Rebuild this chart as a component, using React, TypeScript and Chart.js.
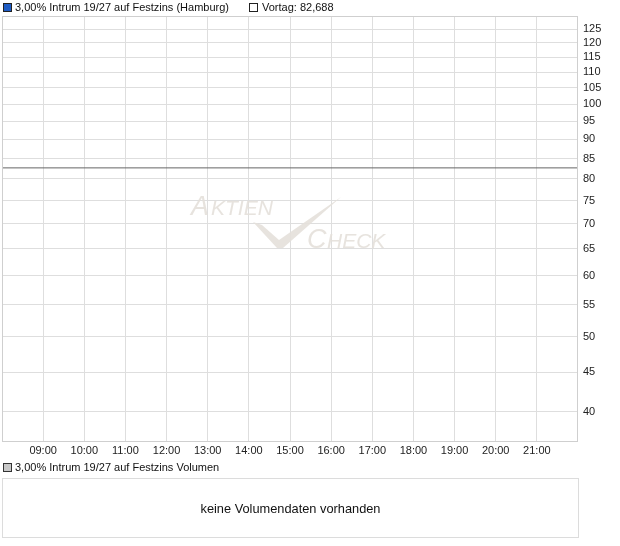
import React, { useEffect, useRef } from "react";
import { Chart, registerables } from "chart.js";

Chart.register(...registerables);

// ---- data ----
const seriesName = "3,00% Intrum 19/27 auf Festzins (Hamburg)";
const vortagName = "Vortag: 82,688";
const volumeName = "3,00% Intrum 19/27 auf Festzins Volumen";
const noVolumeText = "keine Volumendaten vorhanden";
const hourTicks = [9, 10, 11, 12, 13, 14, 15, 16, 17, 18, 19, 20, 21];
const priceTicks = [40, 45, 50, 55, 60, 65, 70, 75, 80, 85, 90, 95, 100, 105, 110, 115, 120, 125];
const vortagValue = 82.688;
const priceTimes: number[] = []; // no intraday trades
const priceValues: number[] = [];
const xStart = 8;
const xEnd = 22;
const yLow = 36.65;
const yHigh = 130;

const FONT = '"Liberation Sans", Arial, sans-serif';

const frame = {
  id: "frame",
  beforeDatasetsDraw(chart: any) {
    const { ctx } = chart;
    ctx.save();
    // watermark
    ctx.fillStyle = "rgba(228,224,218,0.9)";
    ctx.textBaseline = "alphabetic";
    ctx.font = `italic 27px ${FONT}`;
    ctx.fillText("A", 191, 215);
    ctx.font = `italic 21px ${FONT}`;
    ctx.fillText("KTIEN", 211, 215);
    ctx.font = `italic 27px ${FONT}`;
    ctx.fillText("C", 307, 248);
    ctx.font = `italic 21px ${FONT}`;
    ctx.fillText("HECK", 327, 248);
    ctx.beginPath();
    ctx.moveTo(253, 222);
    ctx.lineTo(262, 225);
    ctx.lineTo(279, 240);
    ctx.lineTo(341, 197);
    ctx.lineTo(283, 248);
    ctx.lineTo(277, 248);
    ctx.closePath();
    ctx.fill();
    ctx.restore();
  },
  afterDraw(chart: any) {
    const { ctx, chartArea: a } = chart;
    ctx.save();
    ctx.strokeStyle = "#cfcfcf";
    ctx.lineWidth = 1;
    ctx.strokeRect(Math.round(a.left) + 0.5, Math.round(a.top) + 0.5, Math.round(a.right - a.left) - 1, Math.round(a.bottom - a.top));
    // legend
    ctx.font = `11px ${FONT}`;
    ctx.textBaseline = "middle";
    ctx.fillStyle = "#1f5cc4";
    ctx.fillRect(4, 4, 7, 7);
    ctx.strokeStyle = "#222";
    ctx.strokeRect(3.5, 3.5, 8, 8);
    ctx.fillStyle = "#111";
    ctx.fillText(seriesName, 15, 8);
    ctx.fillStyle = "#fff";
    ctx.fillRect(250, 4, 7, 7);
    ctx.strokeRect(249.5, 3.5, 8, 8);
    ctx.fillStyle = "#111";
    ctx.fillText(vortagName, 262, 8);
    ctx.restore();
  },
};

export default function App() {
  const ref = useRef<HTMLCanvasElement | null>(null);
  useEffect(() => {
    if (!ref.current) return;
    const tickFont = { family: FONT, size: 11 };
    const chart = new Chart(ref.current, {
      type: "line",
      data: {
        datasets: [
          {
            label: seriesName,
            data: priceTimes.map((t, i) => ({ x: t, y: priceValues[i] })),
            borderColor: "#1f5cc4",
            borderWidth: 1,
            pointRadius: 0,
          },
          {
            label: vortagName,
            data: [
              { x: xStart, y: vortagValue },
              { x: xEnd, y: vortagValue },
            ],
            borderColor: "#666",
            borderWidth: 1,
            pointRadius: 0,
          },
        ],
      },
      plugins: [frame],
      options: {
        responsive: false,
        animation: false,
        events: [],
        layout: { padding: { top: 16, left: 2, right: 0, bottom: 0 } },
        plugins: { legend: { display: false }, tooltip: { enabled: false } },
        scales: {
          x: {
            type: "linear",
            min: xStart,
            max: xEnd,
            afterBuildTicks: (s: any) => {
              s.ticks = hourTicks.map((v) => ({ value: v }));
            },
            afterFit: (s: any) => {
              s.height = 20;
            },
            grid: { color: "#dedede", drawTicks: false },
            border: { display: false },
            ticks: {
              padding: 3,
              autoSkip: false,
              maxRotation: 0,
              color: "#222",
              font: tickFont,
              callback: (v: any) => String(v).padStart(2, "0") + ":00",
            },
          },
          y: {
            type: "logarithmic",
            position: "right",
            min: yLow,
            max: yHigh,
            afterBuildTicks: (s: any) => {
              s.ticks = priceTicks.map((v) => ({ value: v }));
            },
            afterFit: (s: any) => {
              s.width = 42;
            },
            grid: { color: "#dedede", drawTicks: false },
            border: { display: false },
            ticks: {
              padding: 5,
              autoSkip: false,
              color: "#222",
              font: tickFont,
              callback: (v: any) => String(v),
            },
          },
        },
      },
    } as any);
    return () => chart.destroy();
  }, []);

  return (
    <div style={{ position: "absolute", left: 0, top: 0, width: 620, height: 546, background: "#fff", fontFamily: FONT }}>
      <canvas ref={ref} width={620} height={461} style={{ display: "block", width: 620, height: 461 }} />
      <div
        style={{
          position: "absolute",
          left: 3,
          top: 463,
          width: 9,
          height: 9,
          boxSizing: "border-box",
          border: "1px solid #333",
          background: "#c8c8c8",
        }}
      />
      <div style={{ position: "absolute", left: 15, top: 460, fontSize: 11, lineHeight: "14px", color: "#111", whiteSpace: "nowrap" }}>
        {volumeName}
      </div>
      <div
        style={{
          position: "absolute",
          left: 2,
          top: 478,
          width: 577,
          height: 60,
          boxSizing: "border-box",
          border: "1px solid #dcdcdc",
          display: "flex",
          alignItems: "center",
          justifyContent: "center",
          fontSize: 12.8,
          color: "#111",
        }}
      >
        {noVolumeText}
      </div>
    </div>
  );
}
